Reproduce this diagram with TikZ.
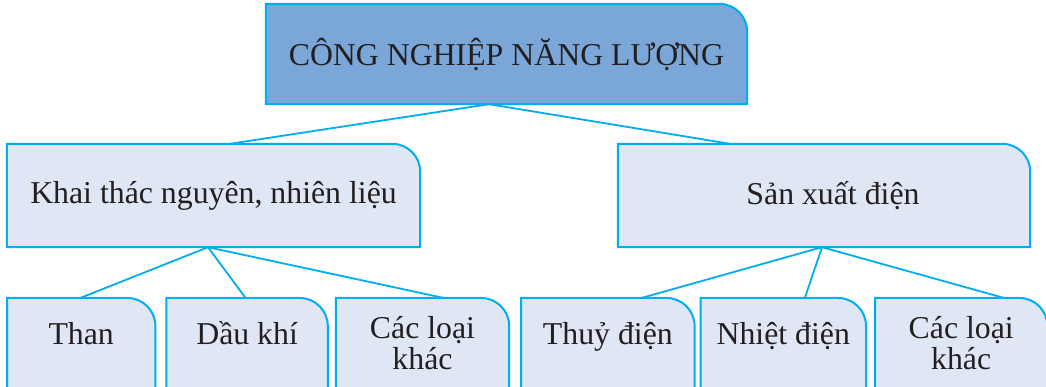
\documentclass[tikz,border=0pt]{standalone}
\usepackage{fontspec}
\setmainfont{Liberation Serif}
\usetikzlibrary{positioning,calc,backgrounds}

\begin{document}
\begin{tikzpicture}[x=1pt,y=1pt]
\definecolor{box edge}{RGB}{0,174,239}
\definecolor{top area}{RGB}{123,167,216}
\definecolor{sub area}{RGB}{223,231,245}
\definecolor{ink}{RGB}{35,31,32}
\tikzset{
     boxtext/.style={inner sep=0pt, align=center, text=ink, font=\fontsize{31.8}{31}\selectfont},
     oneline/.style={text height=22pt, text depth=0pt},
     link/.style={draw=box edge, line width=1.8pt}}

% box with one round corner, #3 = how far it runs on below the node
\def\tabbox#1#2#3{\filldraw[fill=#2, draw=box edge, line width=2pt]
  ([yshift=-#3]#1.south west) -- (#1.north west) -- ([xshift=-28pt]#1.north east)
  arc[start angle=90, end angle=0, radius=28pt] -- ([yshift=-#3]#1.south east) -- cycle;}

\useasboundingbox (0,0) rectangle (1046,387);

% The top and the two branches
\node (top) [boxtext, minimum width=481pt, minimum height=100pt] at (506.5,333) {CÔNG NGHIỆP NĂNG LƯỢNG};
\node (khai) [boxtext, minimum width=413pt, minimum height=103pt] at (213.5,191.5) {Khai thác nguyên, nhiên liệu};
\node (sanxuat) [boxtext, minimum width=412pt, minimum height=103pt] at (824,191.5) {\hspace*{18pt}Sản xuất điện};

% The leaves
\node (than) [boxtext, oneline, anchor=north west, minimum width=148pt, minimum height=70pt] at (7,89) {Than};
\node (daukhi) [boxtext, oneline, right=11pt of than.north east, anchor=north west, minimum width=161pt, minimum height=70pt] {Dầu khí};
\node (khacA) [boxtext, right=8pt of daukhi.north east, anchor=north west, minimum width=173pt, minimum height=90pt] {Các loại\\khác};
\node (thuy) [boxtext, oneline, right=12pt of khacA.north east, anchor=north west, minimum width=173pt, minimum height=70pt] {Thuỷ điện};
\node (nhiet) [boxtext, oneline, right=6pt of thuy.north east, anchor=north west, minimum width=165pt, minimum height=70pt] {Nhiệt điện};
\node (khacB) [boxtext, right=9pt of nhiet.north east, anchor=north west, minimum width=172pt, minimum height=90pt] {Các loại\\khác};

\begin{scope}[on background layer]
  \clip (0,0) rectangle (1046,387);
  \tabbox{top}{top area}{0pt}
  \tabbox{khai}{sub area}{0pt}
  \tabbox{sanxuat}{sub area}{0pt}
  \foreach \n in {than,daukhi,khacA,thuy,nhiet,khacB}
    {\tabbox{\n}{sub area}{30pt}}
\end{scope}

% The connectors
\draw[link] ([xshift=-17.5pt]top.south) -- ([xshift=16.5pt]khai.north);
\draw[link] ([xshift=-17.5pt]top.south) -- ([xshift=-94pt]sanxuat.north);
\foreach \n/\s in {than/-1pt, daukhi/-1.5pt, khacA/21.5pt}
  \draw[link] ([xshift=-5.5pt]khai.south) -- ([xshift=\s]\n.north);
\foreach \n/\s in {thuy/33.5pt, nhiet/21.5pt, khacB/43pt}
  \draw[link] ([xshift=-2pt]sanxuat.south) -- ([xshift=\s]\n.north);
\end{tikzpicture}
\end{document}
